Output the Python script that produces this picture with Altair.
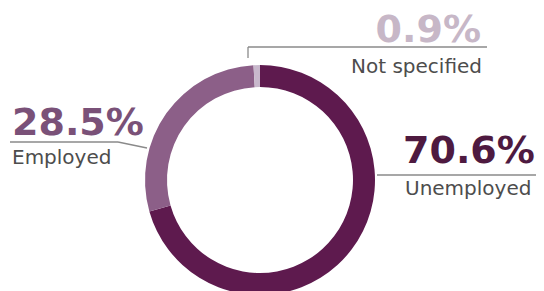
import altair as alt
import pandas as pd

categories = ["Unemployed", "Employed", "Not specified"]
values = [70.6, 28.5, 0.9]
labels = ["70.6%", "28.5%", "0.9%"]
order = [1, 2, 3]
colors = ["#5e1a4e", "#8c5f88", "#c8b8cc"]

df = pd.DataFrame({"category": categories, "value": values, "label": labels, "order": order})

CX, CY = 252, 172

donut = alt.Chart(df).mark_arc(innerRadius=93, outerRadius=115).encode(
    theta=alt.Theta("value:Q", stack=True),
    order=alt.Order("order:Q"),
    color=alt.Color("category:N", scale=alt.Scale(domain=categories, range=colors), legend=None),
    x=alt.value(CX),
    y=alt.value(CY),
)

PCT_FONT = "DejaVu Sans"
LAB_FONT = "DejaVu Sans"

def pct_text(cat, x, y, align, color):
    return alt.Chart(df).transform_filter(alt.datum.category == cat).mark_text(
        align=align, baseline="alphabetic", font=PCT_FONT, fontSize=38, fontWeight="bold", color=color
    ).encode(text="label:N", x=alt.value(x), y=alt.value(y))

def cat_text(cat, x, y, align):
    return alt.Chart(df).transform_filter(alt.datum.category == cat).mark_text(
        align=align, baseline="alphabetic", font=LAB_FONT, fontSize=20, color="#4d4d4d"
    ).encode(text="category:N", x=alt.value(x), y=alt.value(y))

def rule(x1, y1, x2, y2, color="#8a8a8a"):
    return alt.Chart(df).transform_filter(alt.datum.order == 1).mark_rule(
        color=color, strokeWidth=1.3
    ).encode(x=alt.value(x1), y=alt.value(y1), x2=alt.value(x2), y2=alt.value(y2))

layers = [
    donut,
    pct_text("Not specified", 473, 34, "right", "#c7b7c7"),
    rule(240, 39, 479, 39),
    rule(240, 39, 240, 50),
    cat_text("Not specified", 474, 65, "right"),
    pct_text("Employed", 4, 127, "left", "#7a5178"),
    rule(2, 134, 110, 134),
    rule(110, 134, 139, 140),
    cat_text("Employed", 4, 156, "left"),
    pct_text("Unemployed", 395, 155, "left", "#4e1a40"),
    rule(369, 167, 536, 167),
    cat_text("Unemployed", 397, 187, "left"),
]

chart = alt.layer(*layers).properties(
    width=528, height=283, autosize=alt.AutoSizeParams(type="none"), padding=0
).configure_view(stroke=None)

chart.save("out.html", embed_options={"renderer": "svg", "actions": False})
